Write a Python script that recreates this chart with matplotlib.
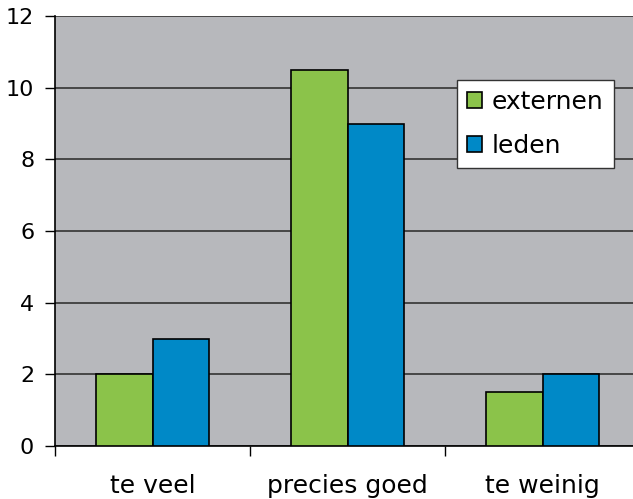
import matplotlib.pyplot as plt
import numpy as np

categories = ['te veel', 'precies goed', 'te weinig']
externen = [2, 10.5, 1.5]
leden = [3, 9, 2]

fig = plt.figure(figsize=(6.33, 4.99), dpi=100)
ax = fig.add_axes([55/633, 1 - 446/499, 585/633, 430/499])
ax.set_facecolor('#b7b8bc')

x = np.arange(len(categories))
w = 0.29
ax.bar(x - w/2, externen, w, color='#8bc34a', edgecolor='black', linewidth=1.2, label='externen', zorder=3)
ax.bar(x + w/2, leden, w, color='#0089c7', edgecolor='black', linewidth=1.2, label='leden', zorder=3)

ax.set_xlim(-0.5, 2.5)
ax.set_ylim(0, 12)
ax.set_yticks(range(0, 13, 2))
ax.yaxis.grid(True, color='#333333', linewidth=1.2, zorder=1)
ax.set_axisbelow(True)

ax.set_xticks([-0.5, 0.5, 1.5, 2.5])
ax.set_xticklabels([])
ax.set_xticks(x, minor=True)
ax.set_xticklabels(categories, minor=True, fontsize=18)
ax.tick_params(axis='x', which='minor', length=0, pad=20)
ax.tick_params(axis='x', which='major', length=7, width=1, direction='out')
ax.tick_params(axis='y', length=7, width=1, direction='out', labelsize=16, pad=8)

for s in ['top', 'right']:
    ax.spines[s].set_visible(False)
ax.spines['left'].set_linewidth(1.2)
ax.spines['bottom'].set_linewidth(1.2)

leg = ax.legend(loc='upper left', bbox_to_anchor=(0.687, 0.851), fontsize=18, frameon=True,
                fancybox=False, edgecolor='#333333', framealpha=1, handlelength=0.6,
                handleheight=0.6, handletextpad=0.4, borderpad=0.4, labelspacing=0.8,
                borderaxespad=0)
leg.get_frame().set_linewidth(1)

fig.savefig('out.png', dpi=100)
